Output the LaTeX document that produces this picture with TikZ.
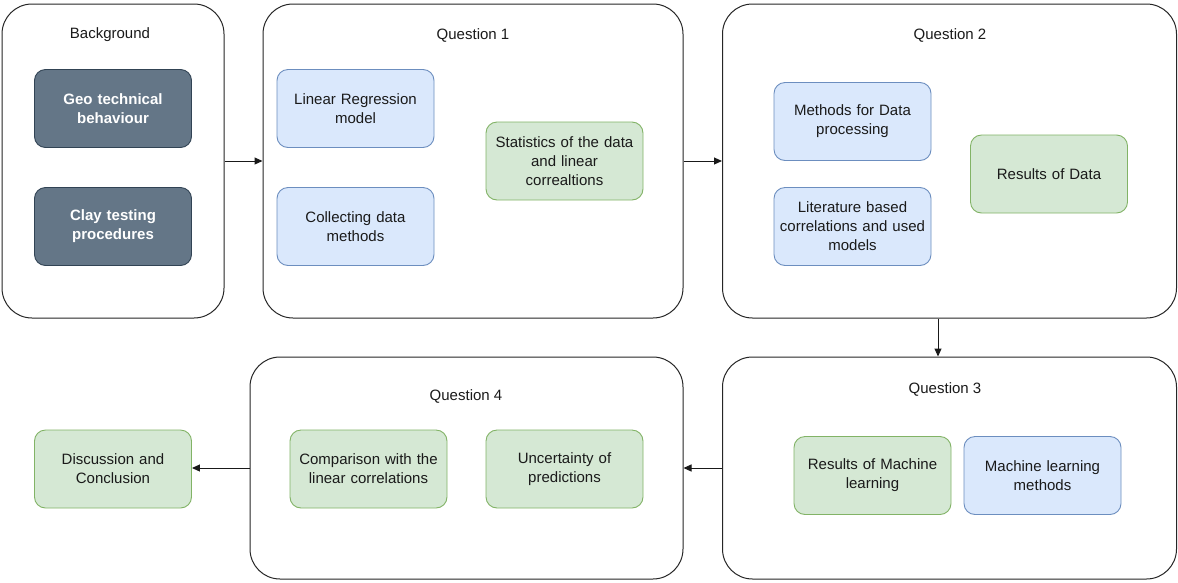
\documentclass[tikz,border=0pt]{standalone}
\usepackage{fontspec}
\setmainfont{Liberation Sans}
\usetikzlibrary{arrows.meta}
\definecolor{darkfill}{HTML}{647687}
\definecolor{darkline}{HTML}{314354}
\definecolor{bluefill}{HTML}{DAE8FC}
\definecolor{blueline}{HTML}{6C8EBF}
\definecolor{greenfill}{HTML}{D5E8D4}
\definecolor{greenline}{HTML}{82B366}
\definecolor{txt}{HTML}{1A1A1A}
\tikzset{
  container/.style={draw=black!85, line width=1pt, rounded corners=30pt, fill=white, inner sep=0pt},
  item/.style={rounded corners=11pt, line width=0.9pt, inner sep=0pt, minimum width=157pt, minimum height=78pt,
    text width=156pt, align=center, font=\fontsize{15}{19}\selectfont, text=txt},
  darkbox/.style={item, fill=darkfill, draw=darkline, text=white, font=\fontsize{15}{19}\selectfont\bfseries},
  bluebox/.style={item, fill=bluefill, draw=blueline},
  greenbox/.style={item, fill=greenfill, draw=greenline},
  ttl/.style={font=\fontsize{15}{17}\selectfont, text=txt, inner sep=0pt},
  conn/.style={-{Triangle[length=8pt,width=7pt]}, line width=1pt, draw=black!90}
}
\begin{document}
\begin{tikzpicture}[x=1pt,y=-1pt]
\useasboundingbox (0,0) rectangle (1178,582);
% containers
\node[container, minimum width=222pt, minimum height=314pt] (bg) at (113,161) {};
\node[container, minimum width=420pt, minimum height=314pt] (q1) at (473,161) {};
\node[container, minimum width=454pt, minimum height=314pt] (q2) at (949.5,161) {};
\node[container, minimum width=454pt, minimum height=222pt] (q3) at (949.5,468) {};
\node[container, minimum width=433pt, minimum height=222pt] (q4) at (466.5,468) {};
% titles
\node[ttl] (tbg) at (110,35) {Background};
\node[ttl] (tq1) at (473,35) {Question 1};
\node[ttl] (tq2) at (950,35) {Question 2};
\node[ttl] (tq3) at (945,389) {Question 3};
\node[ttl] (tq4) at (466,396) {Question 4};
% background items
\node[darkbox] (geo) at (113,108.5) {Geo technical\\behaviour};
\node[darkbox] (clay) at (113,226.5) {Clay testing\\procedures};
% question 1 items
\node[bluebox] (lin) at (355.5,108.5) {Linear Regression\\model};
\node[bluebox] (col) at (355.5,226.5) {Collecting data\\methods};
\node[greenbox] (stat) at (564.5,161) {Statistics of the data\\and linear\\correaltions};
% question 2 items
\node[bluebox] (meth) at (852.5,121.5) {Methods for Data\\processing};
\node[bluebox] (lit) at (852.5,226.5) {Literature based\\correlations and used\\models};
\node[greenbox] (res) at (1049,174) {Results of Data};
% question 3 items
\node[greenbox] (resml) at (872.5,475.5) {Results of Machine\\learning};
\node[bluebox] (mlm) at (1042.5,475.5) {Machine learning\\methods};
% question 4 items
\node[greenbox] (comp) at (368.5,469) {Comparison with the\\linear correlations};
\node[greenbox] (unc) at (564.5,469) {Uncertainty of\\predictions};
% discussion
\node[greenbox] (disc) at (113,469) {Discussion and\\Conclusion};
% connectors
\draw[conn] (bg.east) -- (q1.west);
\draw[conn] (q1.east) -- (q2.west);
\draw[conn] (q2.south -| 938,0) -- (q3.north -| 938,0);
\draw[conn] (q3.west) -- (q4.east);
\draw[conn] (q4.west) -- (q4.west -| disc.east);
\end{tikzpicture}
\end{document}
